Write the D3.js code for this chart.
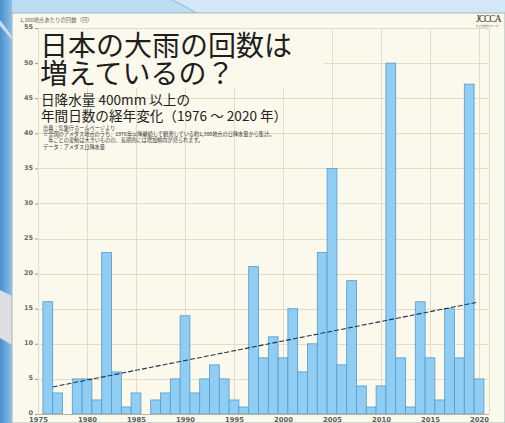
<!DOCTYPE html>
<html>
<head>
<meta charset="utf-8">
<script src="https://cdn.jsdelivr.net/npm/d3@7"></script>
<style>
  html, body { margin: 0; padding: 0; background: #cfe5f4; overflow: hidden; }
  svg { display: block; }
</style>
</head>
<body>
<svg id="chart" width="505" height="423"></svg>
<script>
// Annual number of days with daily precipitation of 400 mm or more
const years = d3.range(1976, 2021);
const days = [
  16, 3, 0, 5, 5, 2, 23, 6, 1, 3,
  0, 2, 3, 5, 14, 3, 5, 7, 5, 2,
  1, 21, 8, 11, 8, 15, 6, 10, 23, 35,
  7, 19, 4, 1, 4, 50, 8, 1, 16, 8,
  2, 15, 8, 47, 5
];
const yTicks = d3.range(0, 56, 5);
const xTicks = d3.range(1975, 2021, 5);

const titleLines = ["日本の大雨の回数は", "増えているの？"];
const subtitleLines = ["日降水量 400mm 以上の", "年間日数の経年変化（1976 ～ 2020 年）"];
const noteLines = [
  "出典：気象庁ホームページより",
  "※全国のアメダス地点のうち、1976年以降継続して観測している約1,300地点の日降水量から集計。",
  "　年ごとの変動は大きいものの、長期的には増加傾向が見られます。",
  "データ：アメダス日降水量"
];
const axisNote = "1,300地点あたりの回数（回）";

const svg = d3.select("#chart");
const W = 505, H = 423;
const FONT = "'Noto Sans CJK JP', 'Noto Sans', sans-serif";

// backdrop around the sheet
const defs = svg.append("defs");
const lg = defs.append("linearGradient").attr("id", "side").attr("x1", 0).attr("x2", 1).attr("y1", 0).attr("y2", 0);
lg.append("stop").attr("offset", 0).attr("stop-color", "#4a8fcd");
lg.append("stop").attr("offset", 1).attr("stop-color", "#8cc0e8");
svg.append("rect").attr("width", W).attr("height", H).attr("fill", "#d3e8f6");
svg.append("path").attr("d", "M0,0 L172,0 Q186,6 196,13 L0,13 Z").attr("fill", "#bcdcf1");
svg.append("path").attr("d", "M172,0 Q186,6 196,13").attr("fill", "none").attr("stroke", "#8fb6d2").attr("stroke-width", 1);
svg.append("rect").attr("x", 0).attr("y", 0).attr("width", 12).attr("height", H).attr("fill", "url(#side)");
svg.append("path").attr("d", "M0,20 L12,36 L12,40 L0,26 Z").attr("fill", "#c9dcea");
svg.append("path").attr("d", "M0,290 L12,296 L12,345 L0,338 Z").attr("fill", "#dcdfe2");

// the sheet
svg.append("rect").attr("x", 12).attr("y", 13).attr("width", W - 12).attr("height", H - 13)
  .attr("fill", "#fbf9ec").attr("stroke", "#a9b3bb").attr("stroke-width", 1);

const x = d3.scaleLinear().domain([1975, 2021]).range([38, 488.8]);
const y = d3.scaleLinear().domain([0, 55]).range([414, 28]);

// grid
const grid = svg.append("g").attr("stroke", "#e3dcc6").attr("stroke-width", 1);
grid.selectAll("line.h").data(yTicks).join("line").attr("class", "h")
  .attr("x1", x(1975)).attr("x2", x(2021))
  .attr("y1", d => Math.round(y(d)) + 0.5).attr("y2", d => Math.round(y(d)) + 0.5);
grid.selectAll("line.v").data(xTicks.concat([2021])).join("line").attr("class", "v")
  .attr("x1", d => Math.round(x(d)) + 0.5).attr("x2", d => Math.round(x(d)) + 0.5)
  .attr("y1", y(55)).attr("y2", y(0));

// backing behind the headline so the grid does not run through it
svg.append("rect").attr("x", 39).attr("y", 30).attr("width", 285).attr("height", 58).attr("fill", "#fbf9ec");

// bars
svg.append("g").selectAll("rect").data(years).join("rect")
  .attr("x", (d) => x(d - 0.5))
  .attr("width", (d) => x(d + 0.5) - x(d - 0.5))
  .attr("y", (d, i) => y(days[i]))
  .attr("height", (d, i) => y(0) - y(days[i]))
  .attr("fill", "#90cdf2")
  .attr("stroke", "#5599cf")
  .attr("stroke-width", 0.8);

// least-squares trend
const mx = d3.mean(years), my = d3.mean(days);
const slope = d3.sum(years, (t, i) => (t - mx) * (days[i] - my)) / d3.sum(years, t => (t - mx) ** 2);
const fit = t => my + slope * (t - mx);
const trendX = [1976.5, 2019.7];
svg.append("line")
  .attr("x1", x(trendX[0])).attr("y1", y(fit(trendX[0])))
  .attr("x2", x(trendX[1])).attr("y2", y(fit(trendX[1])))
  .attr("stroke", "#1f3550").attr("stroke-width", 1.1).attr("stroke-dasharray", "5,2");

// axes
const yAxis = svg.append("g").attr("transform", `translate(${x(1975)},0)`)
  .call(d3.axisLeft(y).tickValues(yTicks).tickSize(3).tickPadding(2));
yAxis.select(".domain").remove();
yAxis.selectAll("line").attr("stroke", "#9a9a9a");
yAxis.selectAll("text").attr("font-family", "'DejaVu Sans', sans-serif").attr("font-size", 6.5)
  .attr("font-weight", "bold").attr("fill", "#6a6a6a").attr("dy", "0.15em");

const xAxis = svg.append("g").attr("transform", `translate(0,${y(0)})`)
  .call(d3.axisBottom(x).tickValues(xTicks).tickFormat(d3.format("d")).tickSize(0).tickPadding(3.5));
xAxis.select(".domain").attr("stroke", "#b9b3a0");
xAxis.selectAll("text").attr("font-family", "'DejaVu Sans', sans-serif").attr("font-size", 6.8)
  .attr("font-weight", "bold").attr("fill", "#5e5e5e");

// headline block
svg.append("text").attr("x", 20).attr("y", 21.5).attr("font-family", FONT).attr("font-size", 5.4)
  .attr("fill", "#666").text(axisNote);

svg.append("g").selectAll("text").data(titleLines).join("text")
  .attr("x", 40).attr("y", (d, i) => 56 + i * 28)
  .attr("font-family", FONT).attr("font-size", 28).attr("fill", "#1e1e1e")
  .text(d => d);

svg.append("g").selectAll("text").data(subtitleLines).join("text")
  .attr("x", 41).attr("y", (d, i) => 104.5 + i * 16)
  .attr("font-family", FONT).attr("font-size", 13.6).attr("fill", "#222")
  .text(d => d);

svg.append("g").selectAll("text").data(noteLines).join("text")
  .attr("x", 43).attr("y", (d, i) => 130 + i * 6.2)
  .attr("font-family", FONT).attr("font-size", 5.2).attr("fill", "#333")
  .text(d => d);

// organisation mark
svg.append("text").attr("x", 476).attr("y", 22).attr("font-family", "'Liberation Serif', serif")
  .attr("font-size", 9.5).attr("fill", "#333").attr("letter-spacing", -1).text("JCCCA");
svg.append("text").attr("x", 476).attr("y", 27).attr("font-family", FONT)
  .attr("font-size", 2.4).attr("fill", "#777").text("防止活動推進センター");
</script>
</body>
</html>
